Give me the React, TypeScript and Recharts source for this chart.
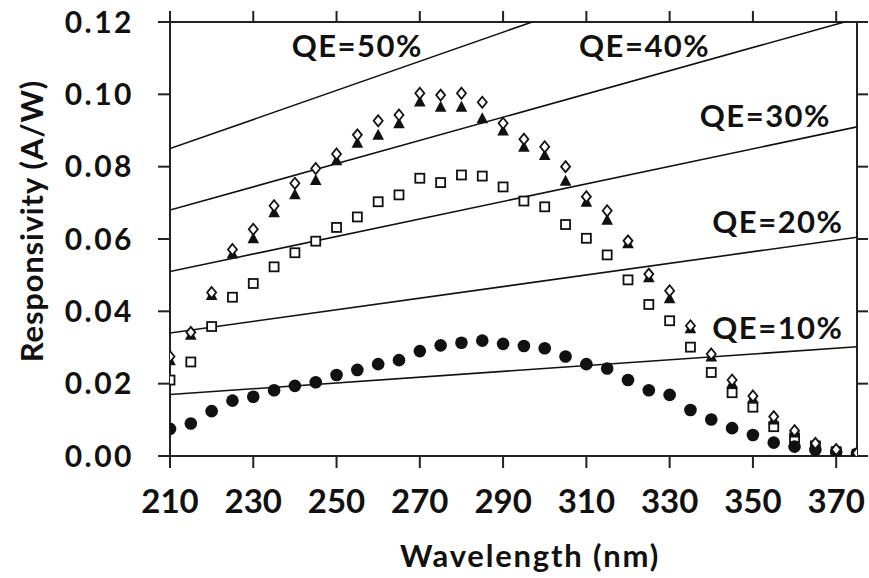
import { ScatterChart, Scatter, XAxis, YAxis, ReferenceDot } from 'recharts'

const wavelengths = [
  210, 215, 220, 225, 230, 235, 240, 245, 250, 255, 260, 265, 270, 275, 280, 285, 290,
  295, 300, 305, 310, 315, 320, 325, 330, 335, 340, 345, 350, 355, 360, 365, 370, 375,
]

const circleSeries = [
  0.0075, 0.009, 0.0124, 0.0153, 0.0164, 0.0182, 0.0194, 0.0204, 0.0224, 0.0238, 0.0254, 0.0265,
  0.029, 0.0306, 0.0313, 0.0319, 0.031, 0.0304, 0.0298, 0.0275, 0.0254, 0.0242, 0.021, 0.0182,
  0.0169, 0.0127, 0.0101, 0.0077, 0.0058, 0.0037, 0.0026, 0.0017, 0.0012, 0.0006,
]

const squareSeries = [
  0.021, 0.026, 0.0358, 0.0439, 0.0477, 0.0523, 0.0562, 0.0594, 0.0632, 0.0661, 0.0703, 0.0722,
  0.0768, 0.0756, 0.0777, 0.0774, 0.0744, 0.0705, 0.0689, 0.064, 0.0602, 0.0556, 0.0487, 0.0419,
  0.0374, 0.0301, 0.0231, 0.0175, 0.0135, 0.0081, 0.005, 0.0028, 0.0012, 0.0005,
]

const triangleSeries = [
  0.0265, 0.0335, 0.0445, 0.056, 0.0602, 0.0674, 0.0724, 0.0763, 0.0818, 0.0866, 0.0888, 0.092,
  0.098, 0.0966, 0.0966, 0.0934, 0.09, 0.0855, 0.0832, 0.0761, 0.0703, 0.0653, 0.0588, 0.0494,
  0.0436, 0.0353, 0.0275, 0.0201, 0.016, 0.0101, 0.0065, 0.0033, 0.0017, 0.0008,
]

const diamondSeries = [
  0.0275, 0.0342, 0.0452, 0.0571, 0.0627, 0.0692, 0.0754, 0.0795, 0.0835, 0.0888, 0.0927, 0.0943,
  0.1003, 0.0998, 0.1003, 0.0978, 0.092, 0.0876, 0.0855, 0.08, 0.0717, 0.0678, 0.0595, 0.0503,
  0.0457, 0.036, 0.0282, 0.021, 0.0166, 0.0109, 0.007, 0.0035, 0.0018, 0.0008,
]

// QE reference lines: start at 210 nm, end where they leave the plot
const qeLabels = ['QE=50%', 'QE=40%', 'QE=30%', 'QE=20%', 'QE=10%']
const qeStartR = [0.085, 0.068, 0.051, 0.034, 0.017]
const qeEndWl = [297, 372, 375, 375, 375]
const qeEndR = [0.12, 0.12, 0.091, 0.0605, 0.0302]
const qeLabelWl = [255, 324, 353, 356, 356]
const qeLabelR = [0.1134, 0.1135, 0.0939, 0.0648, 0.0355]

const xTicks = [210, 230, 250, 270, 290, 310, 330, 350, 370]
const yTicks = [0, 0.02, 0.04, 0.06, 0.08, 0.1, 0.12]

const toPoints = (ys: number[]) => wavelengths.map((x, i) => ({ x, y: ys[i] }))

const FONT = 'Lato, "Open Sans", sans-serif'
const INK = '#111'

const CircleDot = (p: any) => <circle cx={p.cx} cy={p.cy} r={6.3} fill={INK} />
const SquareDot = (p: any) => (
  <rect x={p.cx - 4.5} y={p.cy - 4.5} width={9} height={9} fill="#fff" stroke={INK} strokeWidth={1.8} />
)
const TriangleDot = (p: any) => (
  <path d={`M${p.cx},${p.cy - 6} L${p.cx + 5.8},${p.cy + 5} L${p.cx - 5.8},${p.cy + 5} Z`} fill={INK} />
)
const DiamondDot = (p: any) => (
  <path
    d={`M${p.cx},${p.cy - 5.5} L${p.cx + 4.5},${p.cy} L${p.cx},${p.cy + 5.5} L${p.cx - 4.5},${p.cy} Z`}
    fill="#fff"
    stroke={INK}
    strokeWidth={1.8}
  />
)
const NoDot = () => <g />

const titleStyle = { fontSize: 31, fontWeight: 700, fill: INK, fontFamily: FONT, letterSpacing: 1.8 }

const XTitle = () => (
  <text x={530} y={567} textAnchor="middle" style={titleStyle}>
    Wavelength (nm)
  </text>
)
const YTitle = () => (
  <text
    x={31}
    y={221}
    textAnchor="middle"
    dominantBaseline="central"
    transform="rotate(-90 31 221)"
    style={{ ...titleStyle, letterSpacing: 0.8 }}
  >
    Responsivity (A/W)
  </text>
)

export default function App() {
  const axisLine = { stroke: '#222', strokeWidth: 2 }
  const tickLine = { stroke: '#222', strokeWidth: 2 }

  return (
    <div style={{ position: 'absolute', left: 0, top: 0, background: '#fff' }}>
      <ScatterChart width={869} height={578} margin={{ top: 21, right: 11, left: 0, bottom: 0 }}>
        <XAxis
          type="number"
          dataKey="x"
          domain={[210, 375]}
          ticks={xTicks}
          allowDataOverflow
          height={122}
          tickSize={12}
          tickMargin={22}
          axisLine={axisLine}
          tickLine={tickLine}
          tick={{ fontSize: 33, fontWeight: 700, fill: INK, fontFamily: FONT }}
          label={{ content: XTitle }}
        />
        <XAxis
          xAxisId="top"
          orientation="top"
          type="number"
          dataKey="x"
          domain={[210, 375]}
          ticks={xTicks}
          allowDataOverflow
          height={1}
          tickSize={11}
          axisLine={axisLine}
          tickLine={tickLine}
          tick={NoDot}
        />
        <YAxis
          type="number"
          dataKey="y"
          domain={[0, 0.12]}
          ticks={yTicks}
          allowDataOverflow
          width={170}
          tickSize={12}
          tickMargin={24}
          axisLine={axisLine}
          tickLine={tickLine}
          tickFormatter={(v: number) => v.toFixed(2)}
          tick={{ fontSize: 30, fontWeight: 700, fill: INK, fontFamily: FONT, letterSpacing: 2.5 }}
          label={{ content: YTitle }}
        />
        <YAxis
          yAxisId="right"
          orientation="right"
          type="number"
          dataKey="y"
          domain={[0, 0.12]}
          ticks={yTicks}
          allowDataOverflow
          width={1}
          tickSize={11}
          axisLine={axisLine}
          tickLine={tickLine}
          tick={NoDot}
        />

        {/* hidden copy so the mirrored top/right axes get drawn */}
        <Scatter
          xAxisId="top"
          yAxisId="right"
          data={toPoints(circleSeries)}
          shape={NoDot}
          isAnimationActive={false}
        />

        {qeLabels.map((name, i) => (
          <Scatter
            key={name}
            data={[
              { x: 210, y: qeStartR[i] },
              { x: qeEndWl[i], y: qeEndR[i] },
            ]}
            line={{ stroke: INK, strokeWidth: 1.6 }}
            shape={NoDot}
            isAnimationActive={false}
          />
        ))}

        <Scatter data={toPoints(squareSeries)} shape={SquareDot} isAnimationActive={false} />
        <Scatter data={toPoints(circleSeries)} shape={CircleDot} isAnimationActive={false} />
        <Scatter data={toPoints(triangleSeries)} shape={TriangleDot} isAnimationActive={false} />
        <Scatter data={toPoints(diamondSeries)} shape={DiamondDot} isAnimationActive={false} />

        {qeLabels.map((name, i) => (
          <ReferenceDot
            key={'lbl' + name}
            x={qeLabelWl[i]}
            y={qeLabelR[i]}
            r={0}
            fill="none"
            stroke="none"
            label={{
              value: name,
              position: 'center',
              style: { fontSize: 31, fontWeight: 700, fill: INK, fontFamily: FONT, letterSpacing: 1.5 },
            }}
          />
        ))}
      </ScatterChart>
    </div>
  )
}
